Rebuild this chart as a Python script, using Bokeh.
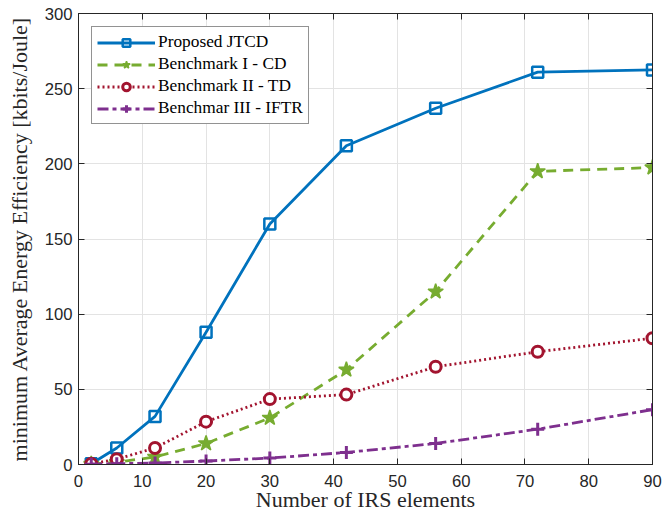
from bokeh.plotting import figure
from bokeh.models import LinearAxis, Range1d, Legend, LegendItem, FixedTicker
from bokeh.embed import file_html
from bokeh.resources import INLINE

# Number of IRS elements
irs_elements = [2, 6, 12, 20, 30, 42, 56, 72, 90]

# Minimum average energy efficiency [kbits/Joule]
jtcd = [0.5, 11, 32, 88, 160, 212, 237, 261, 262.5]
bench_cd = [0.3, 1.5, 5, 14, 31, 63, 115, 195, 197.5]
bench_td = [0.5, 3.5, 11, 28.5, 43.5, 46.5, 65, 75, 84]
bench_iftr = [0.2, 0.5, 1, 2.3, 4.3, 8, 14, 23.5, 36.5]

x_ticks = [0, 10, 20, 30, 40, 50, 60, 70, 80, 90]
y_ticks = [0, 50, 100, 150, 200, 250, 300]

serif = "Liberation Serif"
sans = "Liberation Sans"

p = figure(width=671, height=514, output_backend="svg", toolbar_location=None,
           x_range=Range1d(0, 90), y_range=Range1d(0, 300),
           min_border_left=78, min_border_right=19, min_border_top=13, min_border_bottom=50)
p.background_fill_color = "white"
p.border_fill_color = "white"
p.outline_line_color = "#262626"
p.outline_line_width = 1

p.xaxis.ticker = FixedTicker(ticks=x_ticks)
p.yaxis.ticker = FixedTicker(ticks=y_ticks)
p.xgrid.ticker = FixedTicker(ticks=x_ticks)
p.ygrid.ticker = FixedTicker(ticks=y_ticks)
p.grid.grid_line_color = "#e3e3e3"
p.grid.grid_line_width = 1

for ax in (p.xaxis[0], p.yaxis[0]):
    ax.axis_line_color = "#262626"
    ax.major_tick_in = 6
    ax.major_tick_out = 0
    ax.minor_tick_line_color = None
    ax.major_tick_line_color = "#262626"
    ax.major_label_text_font = sans
    ax.major_label_text_font_size = "12.5pt"
    ax.major_label_text_color = "#262626"
    ax.axis_label_text_font = serif
    ax.axis_label_text_font_size = "16.5pt"
    ax.axis_label_text_font_style = "normal"
    ax.axis_label_text_color = "#262626"

p.xaxis.axis_label = "Number of IRS elements"
p.yaxis.axis_label = "minimum Average Energy Efficiency [kbits/Joule]"
p.xaxis.major_label_standoff = 10
p.yaxis.major_label_standoff = 6
p.xaxis.axis_label_standoff = -3
p.yaxis.axis_label_standoff = 10

# Box ticks on the top and right edges
top_ax = LinearAxis(ticker=FixedTicker(ticks=x_ticks), major_label_text_color=None,
                    major_tick_in=6, major_tick_out=0, minor_tick_line_color=None,
                    axis_line_color="#262626", major_tick_line_color="#262626",
                    major_label_standoff=0)
right_ax = LinearAxis(ticker=FixedTicker(ticks=y_ticks), major_label_text_color=None,
                      major_tick_in=6, major_tick_out=0, minor_tick_line_color=None,
                      axis_line_color="#262626", major_tick_line_color="#262626",
                      major_label_standoff=0)
p.add_layout(top_ax, "above")
p.add_layout(right_ax, "right")

blue = "#0072BD"
green = "#77AC30"
red = "#A2142F"
purple = "#7E2F8E"

l1 = p.line(irs_elements, jtcd, line_color=blue, line_width=2.8)
m1 = p.scatter(irs_elements, jtcd, marker="square", size=11, line_color=blue,
               line_width=2.5, fill_color="white", fill_alpha=0.0)

l2 = p.line(irs_elements, bench_cd, line_color=green, line_width=2.8, line_dash="10 7")
m2 = p.scatter(irs_elements, bench_cd, marker="star", size=16, line_color=green,
               line_width=1.5, fill_color=green)

l3 = p.line(irs_elements, bench_td, line_color=red, line_width=2.8, line_dash="2 3")
m3 = p.scatter(irs_elements, bench_td, marker="circle", size=11, line_color=red,
               line_width=3, fill_color="white")

l4 = p.line(irs_elements, bench_iftr, line_color=purple, line_width=2.8, line_dash="11 4 4 4")
m4 = p.scatter(irs_elements, bench_iftr, marker="cross", size=13, line_color=purple,
               line_width=3)

legend = Legend(items=[
    LegendItem(label="Proposed JTCD", renderers=[l1, m1]),
    LegendItem(label="Benchmark I - CD", renderers=[l2, m2]),
    LegendItem(label="Benchmark II - TD", renderers=[l3, m3]),
    LegendItem(label="Benchmar III - IFTR", renderers=[l4, m4]),
], location="top_left")
legend.label_text_font = serif
legend.label_text_font_size = "13pt"
legend.label_text_color = "black"
legend.border_line_color = "#262626"
legend.border_line_width = 1
legend.background_fill_color = "white"
legend.background_fill_alpha = 1.0
legend.glyph_width = 58
legend.glyph_height = 19
legend.label_height = 19
legend.spacing = 2
legend.padding = 5
legend.margin = 13
legend.label_standoff = 3
p.add_layout(legend)

open("out.html", "w").write(file_html(p, INLINE))
